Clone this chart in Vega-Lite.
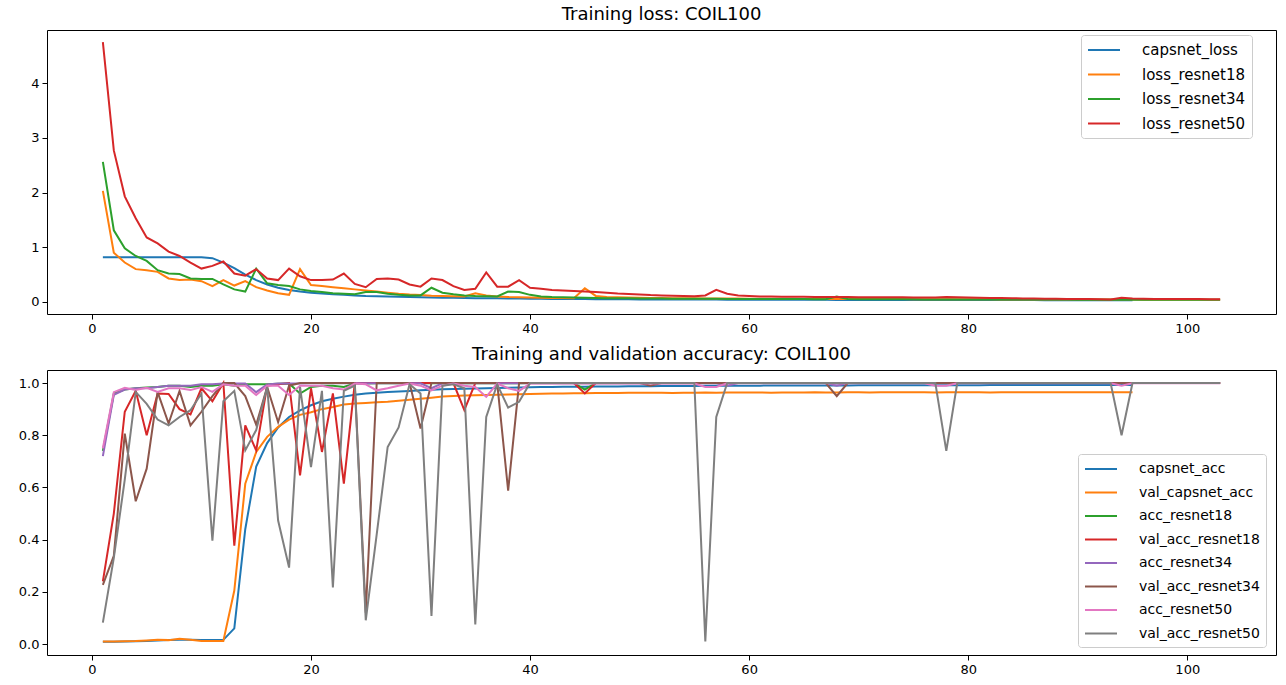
{
"$schema": "https://vega.github.io/schema/vega-lite/v6.json",
"background": "white",
"padding": {"left": 6, "top": 5, "right": 5, "bottom": 5},
"spacing": 8,
"datasets": {
"capsnet_loss": [{"epoch":1,"value":0.815},{"epoch":2,"value":0.815},{"epoch":3,"value":0.815},{"epoch":4,"value":0.815},{"epoch":5,"value":0.815},{"epoch":6,"value":0.815},{"epoch":7,"value":0.815},{"epoch":8,"value":0.815},{"epoch":9,"value":0.815},{"epoch":10,"value":0.815},{"epoch":11,"value":0.8},{"epoch":12,"value":0.72},{"epoch":13,"value":0.62},{"epoch":14,"value":0.5},{"epoch":15,"value":0.4},{"epoch":16,"value":0.32},{"epoch":17,"value":0.26},{"epoch":18,"value":0.22},{"epoch":19,"value":0.19},{"epoch":20,"value":0.17},{"epoch":21,"value":0.155},{"epoch":22,"value":0.14},{"epoch":23,"value":0.13},{"epoch":24,"value":0.12},{"epoch":25,"value":0.11},{"epoch":26,"value":0.105},{"epoch":27,"value":0.1},{"epoch":28,"value":0.095},{"epoch":29,"value":0.09},{"epoch":30,"value":0.085},{"epoch":31,"value":0.081},{"epoch":32,"value":0.078},{"epoch":33,"value":0.075},{"epoch":34,"value":0.072},{"epoch":35,"value":0.07},{"epoch":36,"value":0.068},{"epoch":37,"value":0.066},{"epoch":38,"value":0.064},{"epoch":39,"value":0.062},{"epoch":40,"value":0.06},{"epoch":41,"value":0.058},{"epoch":42,"value":0.056},{"epoch":43,"value":0.055},{"epoch":44,"value":0.053},{"epoch":45,"value":0.052},{"epoch":46,"value":0.051},{"epoch":47,"value":0.05},{"epoch":48,"value":0.049},{"epoch":49,"value":0.048},{"epoch":50,"value":0.047},{"epoch":51,"value":0.046},{"epoch":52,"value":0.045},{"epoch":53,"value":0.045},{"epoch":54,"value":0.044},{"epoch":55,"value":0.044},{"epoch":56,"value":0.043},{"epoch":57,"value":0.043},{"epoch":58,"value":0.042},{"epoch":59,"value":0.042},{"epoch":60,"value":0.041},{"epoch":61,"value":0.041},{"epoch":62,"value":0.04},{"epoch":63,"value":0.04},{"epoch":64,"value":0.04},{"epoch":65,"value":0.039},{"epoch":66,"value":0.039},{"epoch":67,"value":0.039},{"epoch":68,"value":0.038},{"epoch":69,"value":0.038},{"epoch":70,"value":0.038},{"epoch":71,"value":0.037},{"epoch":72,"value":0.037},{"epoch":73,"value":0.037},{"epoch":74,"value":0.036},{"epoch":75,"value":0.036},{"epoch":76,"value":0.036},{"epoch":77,"value":0.036},{"epoch":78,"value":0.035},{"epoch":79,"value":0.035},{"epoch":80,"value":0.035},{"epoch":81,"value":0.035},{"epoch":82,"value":0.034},{"epoch":83,"value":0.034},{"epoch":84,"value":0.034},{"epoch":85,"value":0.034},{"epoch":86,"value":0.034},{"epoch":87,"value":0.033},{"epoch":88,"value":0.033},{"epoch":89,"value":0.033},{"epoch":90,"value":0.033},{"epoch":91,"value":0.033},{"epoch":92,"value":0.032},{"epoch":93,"value":0.032},{"epoch":94,"value":0.032},{"epoch":95,"value":0.032}],
"loss_resnet18": [{"epoch":1,"value":2.03},{"epoch":2,"value":0.9},{"epoch":3,"value":0.72},{"epoch":4,"value":0.6},{"epoch":5,"value":0.58},{"epoch":6,"value":0.55},{"epoch":7,"value":0.43},{"epoch":8,"value":0.4},{"epoch":9,"value":0.41},{"epoch":10,"value":0.38},{"epoch":11,"value":0.29},{"epoch":12,"value":0.4},{"epoch":13,"value":0.3},{"epoch":14,"value":0.38},{"epoch":15,"value":0.27},{"epoch":16,"value":0.21},{"epoch":17,"value":0.16},{"epoch":18,"value":0.13},{"epoch":19,"value":0.6},{"epoch":20,"value":0.31},{"epoch":21,"value":0.29},{"epoch":22,"value":0.27},{"epoch":23,"value":0.25},{"epoch":24,"value":0.23},{"epoch":25,"value":0.21},{"epoch":26,"value":0.19},{"epoch":27,"value":0.17},{"epoch":28,"value":0.15},{"epoch":29,"value":0.135},{"epoch":30,"value":0.125},{"epoch":31,"value":0.115},{"epoch":32,"value":0.11},{"epoch":33,"value":0.105},{"epoch":34,"value":0.1},{"epoch":35,"value":0.16},{"epoch":36,"value":0.12},{"epoch":37,"value":0.1},{"epoch":38,"value":0.09},{"epoch":39,"value":0.085},{"epoch":40,"value":0.08},{"epoch":41,"value":0.077},{"epoch":42,"value":0.074},{"epoch":43,"value":0.071},{"epoch":44,"value":0.068},{"epoch":45,"value":0.25},{"epoch":46,"value":0.11},{"epoch":47,"value":0.09},{"epoch":48,"value":0.085},{"epoch":49,"value":0.08},{"epoch":50,"value":0.077},{"epoch":51,"value":0.074},{"epoch":52,"value":0.072},{"epoch":53,"value":0.07},{"epoch":54,"value":0.068},{"epoch":55,"value":0.066},{"epoch":56,"value":0.064},{"epoch":57,"value":0.063},{"epoch":58,"value":0.062},{"epoch":59,"value":0.061},{"epoch":60,"value":0.06},{"epoch":61,"value":0.059},{"epoch":62,"value":0.058},{"epoch":63,"value":0.058},{"epoch":64,"value":0.057},{"epoch":65,"value":0.056},{"epoch":66,"value":0.056},{"epoch":67,"value":0.055},{"epoch":68,"value":0.055},{"epoch":69,"value":0.054},{"epoch":70,"value":0.054},{"epoch":71,"value":0.053},{"epoch":72,"value":0.053},{"epoch":73,"value":0.052},{"epoch":74,"value":0.052},{"epoch":75,"value":0.051},{"epoch":76,"value":0.051},{"epoch":77,"value":0.05},{"epoch":78,"value":0.05},{"epoch":79,"value":0.049},{"epoch":80,"value":0.049},{"epoch":81,"value":0.048},{"epoch":82,"value":0.048},{"epoch":83,"value":0.047},{"epoch":84,"value":0.047},{"epoch":85,"value":0.046},{"epoch":86,"value":0.046},{"epoch":87,"value":0.046},{"epoch":88,"value":0.045},{"epoch":89,"value":0.045},{"epoch":90,"value":0.045},{"epoch":91,"value":0.044},{"epoch":92,"value":0.044},{"epoch":93,"value":0.044},{"epoch":94,"value":0.043},{"epoch":95,"value":0.043},{"epoch":96,"value":0.042},{"epoch":97,"value":0.042},{"epoch":98,"value":0.042},{"epoch":99,"value":0.041},{"epoch":100,"value":0.041},{"epoch":101,"value":0.041},{"epoch":102,"value":0.04},{"epoch":103,"value":0.04}],
"loss_resnet34": [{"epoch":1,"value":2.56},{"epoch":2,"value":1.31},{"epoch":3,"value":0.98},{"epoch":4,"value":0.84},{"epoch":5,"value":0.75},{"epoch":6,"value":0.58},{"epoch":7,"value":0.52},{"epoch":8,"value":0.51},{"epoch":9,"value":0.43},{"epoch":10,"value":0.42},{"epoch":11,"value":0.42},{"epoch":12,"value":0.32},{"epoch":13,"value":0.23},{"epoch":14,"value":0.19},{"epoch":15,"value":0.61},{"epoch":16,"value":0.34},{"epoch":17,"value":0.31},{"epoch":18,"value":0.29},{"epoch":19,"value":0.23},{"epoch":20,"value":0.2},{"epoch":21,"value":0.18},{"epoch":22,"value":0.16},{"epoch":23,"value":0.15},{"epoch":24,"value":0.14},{"epoch":25,"value":0.18},{"epoch":26,"value":0.18},{"epoch":27,"value":0.15},{"epoch":28,"value":0.13},{"epoch":29,"value":0.12},{"epoch":30,"value":0.12},{"epoch":31,"value":0.26},{"epoch":32,"value":0.17},{"epoch":33,"value":0.14},{"epoch":34,"value":0.12},{"epoch":35,"value":0.11},{"epoch":36,"value":0.105},{"epoch":37,"value":0.1},{"epoch":38,"value":0.19},{"epoch":39,"value":0.18},{"epoch":40,"value":0.13},{"epoch":41,"value":0.1},{"epoch":42,"value":0.09},{"epoch":43,"value":0.085},{"epoch":44,"value":0.08},{"epoch":45,"value":0.075},{"epoch":46,"value":0.072},{"epoch":47,"value":0.07},{"epoch":48,"value":0.068},{"epoch":49,"value":0.066},{"epoch":50,"value":0.064},{"epoch":51,"value":0.062},{"epoch":52,"value":0.061},{"epoch":53,"value":0.06},{"epoch":54,"value":0.059},{"epoch":55,"value":0.058},{"epoch":56,"value":0.057},{"epoch":57,"value":0.057},{"epoch":58,"value":0.056},{"epoch":59,"value":0.056},{"epoch":60,"value":0.055},{"epoch":61,"value":0.054},{"epoch":62,"value":0.054},{"epoch":63,"value":0.053},{"epoch":64,"value":0.053},{"epoch":65,"value":0.052},{"epoch":66,"value":0.051},{"epoch":67,"value":0.05},{"epoch":68,"value":0.1},{"epoch":69,"value":0.055},{"epoch":70,"value":0.05},{"epoch":71,"value":0.05},{"epoch":72,"value":0.049},{"epoch":73,"value":0.049},{"epoch":74,"value":0.048},{"epoch":75,"value":0.048},{"epoch":76,"value":0.047},{"epoch":77,"value":0.047},{"epoch":78,"value":0.047},{"epoch":79,"value":0.046},{"epoch":80,"value":0.046},{"epoch":81,"value":0.045},{"epoch":82,"value":0.045},{"epoch":83,"value":0.045},{"epoch":84,"value":0.044},{"epoch":85,"value":0.044},{"epoch":86,"value":0.044},{"epoch":87,"value":0.043},{"epoch":88,"value":0.043},{"epoch":89,"value":0.043},{"epoch":90,"value":0.042},{"epoch":91,"value":0.042},{"epoch":92,"value":0.042},{"epoch":93,"value":0.041},{"epoch":94,"value":0.041},{"epoch":95,"value":0.041},{"epoch":96,"value":0.04},{"epoch":97,"value":0.04},{"epoch":98,"value":0.04},{"epoch":99,"value":0.04},{"epoch":100,"value":0.039},{"epoch":101,"value":0.039},{"epoch":102,"value":0.039},{"epoch":103,"value":0.039}],
"loss_resnet50": [{"epoch":1,"value":4.75},{"epoch":2,"value":2.77},{"epoch":3,"value":1.93},{"epoch":4,"value":1.53},{"epoch":5,"value":1.18},{"epoch":6,"value":1.07},{"epoch":7,"value":0.92},{"epoch":8,"value":0.84},{"epoch":9,"value":0.72},{"epoch":10,"value":0.61},{"epoch":11,"value":0.66},{"epoch":12,"value":0.74},{"epoch":13,"value":0.52},{"epoch":14,"value":0.48},{"epoch":15,"value":0.6},{"epoch":16,"value":0.43},{"epoch":17,"value":0.4},{"epoch":18,"value":0.61},{"epoch":19,"value":0.47},{"epoch":20,"value":0.4},{"epoch":21,"value":0.4},{"epoch":22,"value":0.41},{"epoch":23,"value":0.52},{"epoch":24,"value":0.33},{"epoch":25,"value":0.27},{"epoch":26,"value":0.42},{"epoch":27,"value":0.43},{"epoch":28,"value":0.41},{"epoch":29,"value":0.32},{"epoch":30,"value":0.28},{"epoch":31,"value":0.43},{"epoch":32,"value":0.4},{"epoch":33,"value":0.29},{"epoch":34,"value":0.22},{"epoch":35,"value":0.24},{"epoch":36,"value":0.54},{"epoch":37,"value":0.28},{"epoch":38,"value":0.28},{"epoch":39,"value":0.4},{"epoch":40,"value":0.26},{"epoch":41,"value":0.24},{"epoch":42,"value":0.22},{"epoch":43,"value":0.21},{"epoch":44,"value":0.2},{"epoch":45,"value":0.19},{"epoch":46,"value":0.18},{"epoch":47,"value":0.17},{"epoch":48,"value":0.155},{"epoch":49,"value":0.145},{"epoch":50,"value":0.135},{"epoch":51,"value":0.125},{"epoch":52,"value":0.12},{"epoch":53,"value":0.115},{"epoch":54,"value":0.11},{"epoch":55,"value":0.105},{"epoch":56,"value":0.12},{"epoch":57,"value":0.22},{"epoch":58,"value":0.15},{"epoch":59,"value":0.12},{"epoch":60,"value":0.11},{"epoch":61,"value":0.1},{"epoch":62,"value":0.1},{"epoch":63,"value":0.095},{"epoch":64,"value":0.094},{"epoch":65,"value":0.093},{"epoch":66,"value":0.092},{"epoch":67,"value":0.091},{"epoch":68,"value":0.09},{"epoch":69,"value":0.089},{"epoch":70,"value":0.088},{"epoch":71,"value":0.087},{"epoch":72,"value":0.086},{"epoch":73,"value":0.085},{"epoch":74,"value":0.084},{"epoch":75,"value":0.083},{"epoch":76,"value":0.082},{"epoch":77,"value":0.08},{"epoch":78,"value":0.09},{"epoch":79,"value":0.085},{"epoch":80,"value":0.08},{"epoch":81,"value":0.077},{"epoch":82,"value":0.074},{"epoch":83,"value":0.071},{"epoch":84,"value":0.068},{"epoch":85,"value":0.065},{"epoch":86,"value":0.062},{"epoch":87,"value":0.06},{"epoch":88,"value":0.058},{"epoch":89,"value":0.056},{"epoch":90,"value":0.054},{"epoch":91,"value":0.052},{"epoch":92,"value":0.05},{"epoch":93,"value":0.046},{"epoch":94,"value":0.075},{"epoch":95,"value":0.062},{"epoch":96,"value":0.058},{"epoch":97,"value":0.056},{"epoch":98,"value":0.055},{"epoch":99,"value":0.054},{"epoch":100,"value":0.053},{"epoch":101,"value":0.052},{"epoch":102,"value":0.051},{"epoch":103,"value":0.05}],
"capsnet_acc": [{"epoch":1,"value":0.009},{"epoch":2,"value":0.009},{"epoch":3,"value":0.01},{"epoch":4,"value":0.011},{"epoch":5,"value":0.012},{"epoch":6,"value":0.014},{"epoch":7,"value":0.015},{"epoch":8,"value":0.016},{"epoch":9,"value":0.016},{"epoch":10,"value":0.015},{"epoch":11,"value":0.015},{"epoch":12,"value":0.016},{"epoch":13,"value":0.06},{"epoch":14,"value":0.44},{"epoch":15,"value":0.68},{"epoch":16,"value":0.77},{"epoch":17,"value":0.83},{"epoch":18,"value":0.87},{"epoch":19,"value":0.895},{"epoch":20,"value":0.915},{"epoch":21,"value":0.93},{"epoch":22,"value":0.94},{"epoch":23,"value":0.948},{"epoch":24,"value":0.955},{"epoch":25,"value":0.96},{"epoch":26,"value":0.963},{"epoch":27,"value":0.966},{"epoch":28,"value":0.968},{"epoch":29,"value":0.97},{"epoch":30,"value":0.972},{"epoch":31,"value":0.974},{"epoch":32,"value":0.976},{"epoch":33,"value":0.977},{"epoch":34,"value":0.978},{"epoch":35,"value":0.979},{"epoch":36,"value":0.98},{"epoch":37,"value":0.981},{"epoch":38,"value":0.982},{"epoch":39,"value":0.983},{"epoch":40,"value":0.984},{"epoch":41,"value":0.985},{"epoch":42,"value":0.985},{"epoch":43,"value":0.986},{"epoch":44,"value":0.986},{"epoch":45,"value":0.986},{"epoch":46,"value":0.987},{"epoch":47,"value":0.987},{"epoch":48,"value":0.987},{"epoch":49,"value":0.988},{"epoch":50,"value":0.988},{"epoch":51,"value":0.988},{"epoch":52,"value":0.989},{"epoch":53,"value":0.989},{"epoch":54,"value":0.989},{"epoch":55,"value":0.989},{"epoch":56,"value":0.99},{"epoch":57,"value":0.99},{"epoch":58,"value":0.99},{"epoch":59,"value":0.99},{"epoch":60,"value":0.99},{"epoch":61,"value":0.99},{"epoch":62,"value":0.991},{"epoch":63,"value":0.991},{"epoch":64,"value":0.991},{"epoch":65,"value":0.991},{"epoch":66,"value":0.991},{"epoch":67,"value":0.991},{"epoch":68,"value":0.991},{"epoch":69,"value":0.991},{"epoch":70,"value":0.992},{"epoch":71,"value":0.992},{"epoch":72,"value":0.992},{"epoch":73,"value":0.992},{"epoch":74,"value":0.992},{"epoch":75,"value":0.992},{"epoch":76,"value":0.992},{"epoch":77,"value":0.992},{"epoch":78,"value":0.992},{"epoch":79,"value":0.992},{"epoch":80,"value":0.992},{"epoch":81,"value":0.992},{"epoch":82,"value":0.993},{"epoch":83,"value":0.993},{"epoch":84,"value":0.993},{"epoch":85,"value":0.993},{"epoch":86,"value":0.993},{"epoch":87,"value":0.993},{"epoch":88,"value":0.993},{"epoch":89,"value":0.993},{"epoch":90,"value":0.993},{"epoch":91,"value":0.993},{"epoch":92,"value":0.993},{"epoch":93,"value":0.993},{"epoch":94,"value":0.993},{"epoch":95,"value":0.993}],
"val_capsnet_acc": [{"epoch":1,"value":0.01},{"epoch":2,"value":0.01},{"epoch":3,"value":0.011},{"epoch":4,"value":0.012},{"epoch":5,"value":0.014},{"epoch":6,"value":0.016},{"epoch":7,"value":0.015},{"epoch":8,"value":0.02},{"epoch":9,"value":0.016},{"epoch":10,"value":0.012},{"epoch":11,"value":0.012},{"epoch":12,"value":0.012},{"epoch":13,"value":0.205},{"epoch":14,"value":0.614},{"epoch":15,"value":0.736},{"epoch":16,"value":0.794},{"epoch":17,"value":0.832},{"epoch":18,"value":0.86},{"epoch":19,"value":0.878},{"epoch":20,"value":0.888},{"epoch":21,"value":0.9},{"epoch":22,"value":0.908},{"epoch":23,"value":0.918},{"epoch":24,"value":0.922},{"epoch":25,"value":0.924},{"epoch":26,"value":0.926},{"epoch":27,"value":0.928},{"epoch":28,"value":0.932},{"epoch":29,"value":0.936},{"epoch":30,"value":0.94},{"epoch":31,"value":0.944},{"epoch":32,"value":0.948},{"epoch":33,"value":0.95},{"epoch":34,"value":0.952},{"epoch":35,"value":0.953},{"epoch":36,"value":0.954},{"epoch":37,"value":0.955},{"epoch":38,"value":0.956},{"epoch":39,"value":0.957},{"epoch":40,"value":0.958},{"epoch":41,"value":0.959},{"epoch":42,"value":0.96},{"epoch":43,"value":0.96},{"epoch":44,"value":0.961},{"epoch":45,"value":0.961},{"epoch":46,"value":0.962},{"epoch":47,"value":0.962},{"epoch":48,"value":0.962},{"epoch":49,"value":0.963},{"epoch":50,"value":0.963},{"epoch":51,"value":0.963},{"epoch":52,"value":0.963},{"epoch":53,"value":0.962},{"epoch":54,"value":0.963},{"epoch":55,"value":0.963},{"epoch":56,"value":0.964},{"epoch":57,"value":0.963},{"epoch":58,"value":0.964},{"epoch":59,"value":0.964},{"epoch":60,"value":0.964},{"epoch":61,"value":0.964},{"epoch":62,"value":0.963},{"epoch":63,"value":0.964},{"epoch":64,"value":0.964},{"epoch":65,"value":0.964},{"epoch":66,"value":0.965},{"epoch":67,"value":0.964},{"epoch":68,"value":0.964},{"epoch":69,"value":0.965},{"epoch":70,"value":0.965},{"epoch":71,"value":0.964},{"epoch":72,"value":0.965},{"epoch":73,"value":0.965},{"epoch":74,"value":0.965},{"epoch":75,"value":0.965},{"epoch":76,"value":0.965},{"epoch":77,"value":0.964},{"epoch":78,"value":0.965},{"epoch":79,"value":0.965},{"epoch":80,"value":0.965},{"epoch":81,"value":0.965},{"epoch":82,"value":0.964},{"epoch":83,"value":0.965},{"epoch":84,"value":0.965},{"epoch":85,"value":0.965},{"epoch":86,"value":0.965},{"epoch":87,"value":0.965},{"epoch":88,"value":0.965},{"epoch":89,"value":0.965},{"epoch":90,"value":0.965},{"epoch":91,"value":0.965},{"epoch":92,"value":0.965},{"epoch":93,"value":0.965},{"epoch":94,"value":0.965},{"epoch":95,"value":0.965}],
"acc_resnet18": [{"epoch":1,"value":0.74},{"epoch":2,"value":0.96},{"epoch":3,"value":0.975},{"epoch":4,"value":0.98},{"epoch":5,"value":0.983},{"epoch":6,"value":0.985},{"epoch":7,"value":0.99},{"epoch":8,"value":0.99},{"epoch":9,"value":0.985},{"epoch":10,"value":0.99},{"epoch":11,"value":0.99},{"epoch":12,"value":0.995},{"epoch":13,"value":0.99},{"epoch":14,"value":0.995},{"epoch":15,"value":0.995},{"epoch":16,"value":0.995},{"epoch":17,"value":0.997},{"epoch":18,"value":0.998},{"epoch":19,"value":0.96},{"epoch":20,"value":0.985},{"epoch":21,"value":0.99},{"epoch":22,"value":0.99},{"epoch":23,"value":0.985},{"epoch":24,"value":0.998},{"epoch":25,"value":0.998},{"epoch":26,"value":0.999},{"epoch":27,"value":0.999},{"epoch":28,"value":0.999},{"epoch":29,"value":0.999},{"epoch":30,"value":0.999},{"epoch":31,"value":0.999},{"epoch":32,"value":0.999},{"epoch":33,"value":0.999},{"epoch":34,"value":0.999},{"epoch":35,"value":0.999},{"epoch":36,"value":0.999},{"epoch":37,"value":0.999},{"epoch":38,"value":0.999},{"epoch":39,"value":0.999},{"epoch":40,"value":1.0},{"epoch":41,"value":1.0},{"epoch":42,"value":1.0},{"epoch":43,"value":1.0},{"epoch":44,"value":1.0},{"epoch":45,"value":0.975},{"epoch":46,"value":1.0},{"epoch":47,"value":1.0},{"epoch":48,"value":1.0},{"epoch":49,"value":1.0},{"epoch":50,"value":1.0},{"epoch":51,"value":1.0},{"epoch":52,"value":1.0},{"epoch":53,"value":1.0},{"epoch":54,"value":1.0},{"epoch":55,"value":1.0},{"epoch":56,"value":1.0},{"epoch":57,"value":1.0},{"epoch":58,"value":1.0},{"epoch":59,"value":1.0},{"epoch":60,"value":1.0},{"epoch":61,"value":1.0},{"epoch":62,"value":1.0},{"epoch":63,"value":1.0},{"epoch":64,"value":1.0},{"epoch":65,"value":1.0},{"epoch":66,"value":1.0},{"epoch":67,"value":1.0},{"epoch":68,"value":1.0},{"epoch":69,"value":1.0},{"epoch":70,"value":1.0},{"epoch":71,"value":1.0},{"epoch":72,"value":1.0},{"epoch":73,"value":1.0},{"epoch":74,"value":1.0},{"epoch":75,"value":1.0},{"epoch":76,"value":1.0},{"epoch":77,"value":1.0},{"epoch":78,"value":1.0},{"epoch":79,"value":1.0},{"epoch":80,"value":1.0},{"epoch":81,"value":1.0},{"epoch":82,"value":1.0},{"epoch":83,"value":1.0},{"epoch":84,"value":1.0},{"epoch":85,"value":1.0},{"epoch":86,"value":1.0},{"epoch":87,"value":1.0},{"epoch":88,"value":1.0},{"epoch":89,"value":1.0},{"epoch":90,"value":1.0},{"epoch":91,"value":1.0},{"epoch":92,"value":1.0},{"epoch":93,"value":1.0},{"epoch":94,"value":1.0},{"epoch":95,"value":1.0},{"epoch":96,"value":1.0},{"epoch":97,"value":1.0},{"epoch":98,"value":1.0},{"epoch":99,"value":1.0},{"epoch":100,"value":1.0},{"epoch":101,"value":1.0},{"epoch":102,"value":1.0},{"epoch":103,"value":1.0}],
"val_acc_resnet18": [{"epoch":1,"value":0.24},{"epoch":2,"value":0.5},{"epoch":3,"value":0.89},{"epoch":4,"value":0.97},{"epoch":5,"value":0.8},{"epoch":6,"value":0.96},{"epoch":7,"value":0.958},{"epoch":8,"value":0.9},{"epoch":9,"value":0.88},{"epoch":10,"value":0.98},{"epoch":11,"value":0.93},{"epoch":12,"value":1.0},{"epoch":13,"value":0.377},{"epoch":14,"value":0.838},{"epoch":15,"value":0.742},{"epoch":16,"value":0.99},{"epoch":17,"value":0.995},{"epoch":18,"value":1.0},{"epoch":19,"value":0.646},{"epoch":20,"value":0.98},{"epoch":21,"value":0.736},{"epoch":22,"value":0.96},{"epoch":23,"value":0.615},{"epoch":24,"value":1.0},{"epoch":25,"value":1.0},{"epoch":26,"value":1.0},{"epoch":27,"value":1.0},{"epoch":28,"value":1.0},{"epoch":29,"value":1.0},{"epoch":30,"value":1.0},{"epoch":31,"value":1.0},{"epoch":32,"value":1.0},{"epoch":33,"value":1.0},{"epoch":34,"value":0.896},{"epoch":35,"value":1.0},{"epoch":36,"value":1.0},{"epoch":37,"value":1.0},{"epoch":38,"value":1.0},{"epoch":39,"value":1.0},{"epoch":40,"value":1.0},{"epoch":41,"value":1.0},{"epoch":42,"value":1.0},{"epoch":43,"value":1.0},{"epoch":44,"value":1.0},{"epoch":45,"value":0.96},{"epoch":46,"value":1.0},{"epoch":47,"value":1.0},{"epoch":48,"value":1.0},{"epoch":49,"value":1.0},{"epoch":50,"value":1.0},{"epoch":51,"value":1.0},{"epoch":52,"value":1.0},{"epoch":53,"value":1.0},{"epoch":54,"value":1.0},{"epoch":55,"value":1.0},{"epoch":56,"value":1.0},{"epoch":57,"value":1.0},{"epoch":58,"value":1.0},{"epoch":59,"value":1.0},{"epoch":60,"value":1.0},{"epoch":61,"value":1.0},{"epoch":62,"value":1.0},{"epoch":63,"value":1.0},{"epoch":64,"value":1.0},{"epoch":65,"value":1.0},{"epoch":66,"value":1.0},{"epoch":67,"value":1.0},{"epoch":68,"value":1.0},{"epoch":69,"value":1.0},{"epoch":70,"value":1.0},{"epoch":71,"value":1.0},{"epoch":72,"value":1.0},{"epoch":73,"value":1.0},{"epoch":74,"value":1.0},{"epoch":75,"value":1.0},{"epoch":76,"value":1.0},{"epoch":77,"value":1.0},{"epoch":78,"value":1.0},{"epoch":79,"value":1.0},{"epoch":80,"value":1.0},{"epoch":81,"value":1.0},{"epoch":82,"value":1.0},{"epoch":83,"value":1.0},{"epoch":84,"value":1.0},{"epoch":85,"value":1.0},{"epoch":86,"value":1.0},{"epoch":87,"value":1.0},{"epoch":88,"value":1.0},{"epoch":89,"value":1.0},{"epoch":90,"value":1.0},{"epoch":91,"value":1.0},{"epoch":92,"value":1.0},{"epoch":93,"value":1.0},{"epoch":94,"value":1.0},{"epoch":95,"value":1.0},{"epoch":96,"value":1.0},{"epoch":97,"value":1.0},{"epoch":98,"value":1.0},{"epoch":99,"value":1.0},{"epoch":100,"value":1.0},{"epoch":101,"value":1.0},{"epoch":102,"value":1.0},{"epoch":103,"value":1.0}],
"acc_resnet34": [{"epoch":1,"value":0.72},{"epoch":2,"value":0.955},{"epoch":3,"value":0.975},{"epoch":4,"value":0.98},{"epoch":5,"value":0.98},{"epoch":6,"value":0.985},{"epoch":7,"value":0.99},{"epoch":8,"value":0.99},{"epoch":9,"value":0.99},{"epoch":10,"value":0.995},{"epoch":11,"value":0.995},{"epoch":12,"value":0.998},{"epoch":13,"value":0.998},{"epoch":14,"value":0.998},{"epoch":15,"value":0.965},{"epoch":16,"value":0.995},{"epoch":17,"value":0.998},{"epoch":18,"value":0.998},{"epoch":19,"value":0.998},{"epoch":20,"value":0.999},{"epoch":21,"value":0.999},{"epoch":22,"value":0.999},{"epoch":23,"value":0.999},{"epoch":24,"value":0.999},{"epoch":25,"value":0.999},{"epoch":26,"value":0.999},{"epoch":27,"value":0.999},{"epoch":28,"value":0.999},{"epoch":29,"value":0.999},{"epoch":30,"value":0.999},{"epoch":31,"value":0.98},{"epoch":32,"value":0.999},{"epoch":33,"value":0.999},{"epoch":34,"value":0.999},{"epoch":35,"value":0.999},{"epoch":36,"value":0.999},{"epoch":37,"value":0.999},{"epoch":38,"value":0.999},{"epoch":39,"value":0.999},{"epoch":40,"value":0.999},{"epoch":41,"value":0.999},{"epoch":42,"value":0.999},{"epoch":43,"value":0.999},{"epoch":44,"value":0.999},{"epoch":45,"value":0.999},{"epoch":46,"value":0.999},{"epoch":47,"value":0.999},{"epoch":48,"value":0.999},{"epoch":49,"value":0.999},{"epoch":50,"value":0.999},{"epoch":51,"value":0.999},{"epoch":52,"value":0.999},{"epoch":53,"value":0.999},{"epoch":54,"value":0.999},{"epoch":55,"value":0.999},{"epoch":56,"value":0.999},{"epoch":57,"value":0.999},{"epoch":58,"value":0.99},{"epoch":59,"value":1.0},{"epoch":60,"value":1.0},{"epoch":61,"value":1.0},{"epoch":62,"value":1.0},{"epoch":63,"value":1.0},{"epoch":64,"value":1.0},{"epoch":65,"value":1.0},{"epoch":66,"value":1.0},{"epoch":67,"value":1.0},{"epoch":68,"value":0.99},{"epoch":69,"value":1.0},{"epoch":70,"value":1.0},{"epoch":71,"value":1.0},{"epoch":72,"value":1.0},{"epoch":73,"value":1.0},{"epoch":74,"value":1.0},{"epoch":75,"value":1.0},{"epoch":76,"value":1.0},{"epoch":77,"value":1.0},{"epoch":78,"value":1.0},{"epoch":79,"value":1.0},{"epoch":80,"value":1.0},{"epoch":81,"value":1.0},{"epoch":82,"value":1.0},{"epoch":83,"value":1.0},{"epoch":84,"value":1.0},{"epoch":85,"value":1.0},{"epoch":86,"value":1.0},{"epoch":87,"value":1.0},{"epoch":88,"value":1.0},{"epoch":89,"value":1.0},{"epoch":90,"value":1.0},{"epoch":91,"value":1.0},{"epoch":92,"value":1.0},{"epoch":93,"value":1.0},{"epoch":94,"value":1.0},{"epoch":95,"value":1.0},{"epoch":96,"value":1.0},{"epoch":97,"value":1.0},{"epoch":98,"value":1.0},{"epoch":99,"value":1.0},{"epoch":100,"value":1.0},{"epoch":101,"value":1.0},{"epoch":102,"value":1.0},{"epoch":103,"value":1.0}],
"val_acc_resnet34": [{"epoch":1,"value":0.227},{"epoch":2,"value":0.338},{"epoch":3,"value":0.806},{"epoch":4,"value":0.547},{"epoch":5,"value":0.672},{"epoch":6,"value":0.965},{"epoch":7,"value":0.845},{"epoch":8,"value":0.97},{"epoch":9,"value":0.838},{"epoch":10,"value":0.89},{"epoch":11,"value":0.95},{"epoch":12,"value":1.0},{"epoch":13,"value":1.0},{"epoch":14,"value":0.95},{"epoch":15,"value":0.84},{"epoch":16,"value":0.985},{"epoch":17,"value":0.85},{"epoch":18,"value":0.99},{"epoch":19,"value":1.0},{"epoch":20,"value":1.0},{"epoch":21,"value":1.0},{"epoch":22,"value":1.0},{"epoch":23,"value":1.0},{"epoch":24,"value":1.0},{"epoch":25,"value":0.12},{"epoch":26,"value":1.0},{"epoch":27,"value":1.0},{"epoch":28,"value":1.0},{"epoch":29,"value":1.0},{"epoch":30,"value":0.826},{"epoch":31,"value":1.0},{"epoch":32,"value":1.0},{"epoch":33,"value":1.0},{"epoch":34,"value":1.0},{"epoch":35,"value":1.0},{"epoch":36,"value":1.0},{"epoch":37,"value":1.0},{"epoch":38,"value":0.588},{"epoch":39,"value":1.0},{"epoch":40,"value":1.0},{"epoch":41,"value":1.0},{"epoch":42,"value":1.0},{"epoch":43,"value":1.0},{"epoch":44,"value":1.0},{"epoch":45,"value":1.0},{"epoch":46,"value":1.0},{"epoch":47,"value":1.0},{"epoch":48,"value":1.0},{"epoch":49,"value":1.0},{"epoch":50,"value":1.0},{"epoch":51,"value":0.99},{"epoch":52,"value":1.0},{"epoch":53,"value":1.0},{"epoch":54,"value":1.0},{"epoch":55,"value":1.0},{"epoch":56,"value":1.0},{"epoch":57,"value":1.0},{"epoch":58,"value":1.0},{"epoch":59,"value":1.0},{"epoch":60,"value":1.0},{"epoch":61,"value":1.0},{"epoch":62,"value":1.0},{"epoch":63,"value":1.0},{"epoch":64,"value":1.0},{"epoch":65,"value":1.0},{"epoch":66,"value":1.0},{"epoch":67,"value":1.0},{"epoch":68,"value":0.95},{"epoch":69,"value":1.0},{"epoch":70,"value":1.0},{"epoch":71,"value":1.0},{"epoch":72,"value":1.0},{"epoch":73,"value":1.0},{"epoch":74,"value":1.0},{"epoch":75,"value":1.0},{"epoch":76,"value":1.0},{"epoch":77,"value":1.0},{"epoch":78,"value":1.0},{"epoch":79,"value":1.0},{"epoch":80,"value":1.0},{"epoch":81,"value":1.0},{"epoch":82,"value":1.0},{"epoch":83,"value":1.0},{"epoch":84,"value":1.0},{"epoch":85,"value":1.0},{"epoch":86,"value":1.0},{"epoch":87,"value":1.0},{"epoch":88,"value":1.0},{"epoch":89,"value":1.0},{"epoch":90,"value":1.0},{"epoch":91,"value":1.0},{"epoch":92,"value":1.0},{"epoch":93,"value":1.0},{"epoch":94,"value":1.0},{"epoch":95,"value":1.0},{"epoch":96,"value":1.0},{"epoch":97,"value":1.0},{"epoch":98,"value":1.0},{"epoch":99,"value":1.0},{"epoch":100,"value":1.0},{"epoch":101,"value":1.0},{"epoch":102,"value":1.0},{"epoch":103,"value":1.0}],
"acc_resnet50": [{"epoch":1,"value":0.75},{"epoch":2,"value":0.965},{"epoch":3,"value":0.982},{"epoch":4,"value":0.973},{"epoch":5,"value":0.982},{"epoch":6,"value":0.966},{"epoch":7,"value":0.98},{"epoch":8,"value":0.98},{"epoch":9,"value":0.973},{"epoch":10,"value":0.985},{"epoch":11,"value":0.966},{"epoch":12,"value":0.995},{"epoch":13,"value":0.99},{"epoch":14,"value":0.99},{"epoch":15,"value":0.954},{"epoch":16,"value":0.99},{"epoch":17,"value":0.99},{"epoch":18,"value":0.954},{"epoch":19,"value":0.99},{"epoch":20,"value":0.99},{"epoch":21,"value":0.99},{"epoch":22,"value":0.98},{"epoch":23,"value":0.975},{"epoch":24,"value":0.998},{"epoch":25,"value":0.995},{"epoch":26,"value":0.972},{"epoch":27,"value":0.98},{"epoch":28,"value":0.99},{"epoch":29,"value":0.998},{"epoch":30,"value":0.99},{"epoch":31,"value":0.972},{"epoch":32,"value":0.99},{"epoch":33,"value":0.998},{"epoch":34,"value":0.99},{"epoch":35,"value":0.985},{"epoch":36,"value":0.947},{"epoch":37,"value":0.998},{"epoch":38,"value":0.98},{"epoch":39,"value":0.97},{"epoch":40,"value":0.998},{"epoch":41,"value":0.998},{"epoch":42,"value":0.998},{"epoch":43,"value":0.998},{"epoch":44,"value":0.998},{"epoch":45,"value":0.998},{"epoch":46,"value":0.998},{"epoch":47,"value":0.998},{"epoch":48,"value":0.998},{"epoch":49,"value":0.998},{"epoch":50,"value":0.998},{"epoch":51,"value":0.998},{"epoch":52,"value":0.998},{"epoch":53,"value":0.998},{"epoch":54,"value":0.998},{"epoch":55,"value":0.998},{"epoch":56,"value":0.985},{"epoch":57,"value":0.985},{"epoch":58,"value":0.999},{"epoch":59,"value":0.999},{"epoch":60,"value":0.999},{"epoch":61,"value":0.999},{"epoch":62,"value":0.999},{"epoch":63,"value":0.999},{"epoch":64,"value":0.999},{"epoch":65,"value":0.999},{"epoch":66,"value":0.999},{"epoch":67,"value":0.999},{"epoch":68,"value":0.999},{"epoch":69,"value":0.999},{"epoch":70,"value":0.999},{"epoch":71,"value":0.999},{"epoch":72,"value":0.999},{"epoch":73,"value":0.999},{"epoch":74,"value":0.999},{"epoch":75,"value":0.999},{"epoch":76,"value":0.999},{"epoch":77,"value":0.99},{"epoch":78,"value":0.99},{"epoch":79,"value":0.999},{"epoch":80,"value":0.999},{"epoch":81,"value":0.999},{"epoch":82,"value":0.999},{"epoch":83,"value":0.999},{"epoch":84,"value":0.999},{"epoch":85,"value":0.999},{"epoch":86,"value":0.999},{"epoch":87,"value":0.999},{"epoch":88,"value":0.999},{"epoch":89,"value":0.999},{"epoch":90,"value":0.999},{"epoch":91,"value":0.999},{"epoch":92,"value":0.999},{"epoch":93,"value":0.999},{"epoch":94,"value":0.99},{"epoch":95,"value":0.999},{"epoch":96,"value":0.999},{"epoch":97,"value":0.999},{"epoch":98,"value":0.999},{"epoch":99,"value":0.999},{"epoch":100,"value":0.999},{"epoch":101,"value":0.999},{"epoch":102,"value":0.999},{"epoch":103,"value":0.999}],
"val_acc_resnet50": [{"epoch":1,"value":0.082},{"epoch":2,"value":0.33},{"epoch":3,"value":0.63},{"epoch":4,"value":0.966},{"epoch":5,"value":0.92},{"epoch":6,"value":0.86},{"epoch":7,"value":0.838},{"epoch":8,"value":0.87},{"epoch":9,"value":0.896},{"epoch":10,"value":0.96},{"epoch":11,"value":0.396},{"epoch":12,"value":0.93},{"epoch":13,"value":0.97},{"epoch":14,"value":0.742},{"epoch":15,"value":0.82},{"epoch":16,"value":0.985},{"epoch":17,"value":0.473},{"epoch":18,"value":0.293},{"epoch":19,"value":0.985},{"epoch":20,"value":0.678},{"epoch":21,"value":0.97},{"epoch":22,"value":0.217},{"epoch":23,"value":0.97},{"epoch":24,"value":0.99},{"epoch":25,"value":0.091},{"epoch":26,"value":0.42},{"epoch":27,"value":0.755},{"epoch":28,"value":0.83},{"epoch":29,"value":0.995},{"epoch":30,"value":0.96},{"epoch":31,"value":0.108},{"epoch":32,"value":0.99},{"epoch":33,"value":0.995},{"epoch":34,"value":0.98},{"epoch":35,"value":0.075},{"epoch":36,"value":0.87},{"epoch":37,"value":0.995},{"epoch":38,"value":0.906},{"epoch":39,"value":0.928},{"epoch":40,"value":1.0},{"epoch":41,"value":1.0},{"epoch":42,"value":1.0},{"epoch":43,"value":1.0},{"epoch":44,"value":1.0},{"epoch":45,"value":1.0},{"epoch":46,"value":1.0},{"epoch":47,"value":1.0},{"epoch":48,"value":1.0},{"epoch":49,"value":1.0},{"epoch":50,"value":1.0},{"epoch":51,"value":1.0},{"epoch":52,"value":1.0},{"epoch":53,"value":1.0},{"epoch":54,"value":1.0},{"epoch":55,"value":1.0},{"epoch":56,"value":0.01},{"epoch":57,"value":0.87},{"epoch":58,"value":1.0},{"epoch":59,"value":1.0},{"epoch":60,"value":1.0},{"epoch":61,"value":1.0},{"epoch":62,"value":1.0},{"epoch":63,"value":1.0},{"epoch":64,"value":1.0},{"epoch":65,"value":1.0},{"epoch":66,"value":1.0},{"epoch":67,"value":1.0},{"epoch":68,"value":1.0},{"epoch":69,"value":1.0},{"epoch":70,"value":1.0},{"epoch":71,"value":1.0},{"epoch":72,"value":1.0},{"epoch":73,"value":1.0},{"epoch":74,"value":1.0},{"epoch":75,"value":1.0},{"epoch":76,"value":1.0},{"epoch":77,"value":1.0},{"epoch":78,"value":0.74},{"epoch":79,"value":1.0},{"epoch":80,"value":1.0},{"epoch":81,"value":1.0},{"epoch":82,"value":1.0},{"epoch":83,"value":1.0},{"epoch":84,"value":1.0},{"epoch":85,"value":1.0},{"epoch":86,"value":1.0},{"epoch":87,"value":1.0},{"epoch":88,"value":1.0},{"epoch":89,"value":1.0},{"epoch":90,"value":1.0},{"epoch":91,"value":1.0},{"epoch":92,"value":1.0},{"epoch":93,"value":1.0},{"epoch":94,"value":0.8},{"epoch":95,"value":1.0},{"epoch":96,"value":1.0},{"epoch":97,"value":1.0},{"epoch":98,"value":1.0},{"epoch":99,"value":1.0},{"epoch":100,"value":1.0},{"epoch":101,"value":1.0},{"epoch":102,"value":1.0},{"epoch":103,"value":1.0}]
},
"vconcat": [
{
"title": {"text": "Training loss: COIL100"},
"width": 1229, "height": 284,
"encoding": {
"x": {"field": "epoch", "type": "quantitative", "scale": {"domain": [-4.1, 108.1], "nice": false, "zero": false}, "axis": {"values": [0,20,40,60,80,100], "format": "d", "minExtent": 22, "maxExtent": 22}},
"y": {"field": "value", "type": "quantitative", "scale": {"domain": [-0.22, 4.97], "nice": false, "zero": false}, "axis": {"values": [0,1,2,3,4], "format": "d", "minExtent": 40, "maxExtent": 40}}
},
"layer": [
{"data": {"name": "capsnet_loss"}, "mark": {"type": "line", "strokeWidth": 2}, "encoding": {"color": {"datum": "capsnet_loss", "type": "nominal", "scale": {"domain": ["capsnet_loss","loss_resnet18","loss_resnet34","loss_resnet50"], "range": ["#1f77b4","#ff7f0e","#2ca02c","#d62728"]}, "legend": {"title": null, "orient": "none", "legendX": 1034, "legendY": 5, "symbolType": "M-1,0H3", "labelFontSize": 15}}}},
{"data": {"name": "loss_resnet18"}, "mark": {"type": "line", "strokeWidth": 2}, "encoding": {"color": {"datum": "loss_resnet18", "type": "nominal", "scale": {"domain": ["capsnet_loss","loss_resnet18","loss_resnet34","loss_resnet50"], "range": ["#1f77b4","#ff7f0e","#2ca02c","#d62728"]}, "legend": {"title": null, "orient": "none", "legendX": 1034, "legendY": 5, "symbolType": "M-1,0H3", "labelFontSize": 15}}}},
{"data": {"name": "loss_resnet34"}, "mark": {"type": "line", "strokeWidth": 2}, "encoding": {"color": {"datum": "loss_resnet34", "type": "nominal", "scale": {"domain": ["capsnet_loss","loss_resnet18","loss_resnet34","loss_resnet50"], "range": ["#1f77b4","#ff7f0e","#2ca02c","#d62728"]}, "legend": {"title": null, "orient": "none", "legendX": 1034, "legendY": 5, "symbolType": "M-1,0H3", "labelFontSize": 15}}}},
{"data": {"name": "loss_resnet50"}, "mark": {"type": "line", "strokeWidth": 2}, "encoding": {"color": {"datum": "loss_resnet50", "type": "nominal", "scale": {"domain": ["capsnet_loss","loss_resnet18","loss_resnet34","loss_resnet50"], "range": ["#1f77b4","#ff7f0e","#2ca02c","#d62728"]}, "legend": {"title": null, "orient": "none", "legendX": 1034, "legendY": 5, "symbolType": "M-1,0H3", "labelFontSize": 15}}}}
]
},
{
"title": {"text": "Training and validation accuracy: COIL100"},
"width": 1229, "height": 285,
"encoding": {
"x": {"field": "epoch", "type": "quantitative", "scale": {"domain": [-4.1, 108.1], "nice": false, "zero": false}, "axis": {"values": [0,20,40,60,80,100], "format": "d", "minExtent": 22, "maxExtent": 22}},
"y": {"field": "value", "type": "quantitative", "scale": {"domain": [-0.042, 1.05], "nice": false, "zero": false}, "axis": {"values": [0,0.2,0.4,0.6,0.8,1.0], "format": ".1f", "minExtent": 40, "maxExtent": 40}}
},
"layer": [
{"data": {"name": "capsnet_acc"}, "mark": {"type": "line", "strokeWidth": 2}, "encoding": {"color": {"datum": "capsnet_acc", "type": "nominal", "scale": {"domain": ["capsnet_acc","val_capsnet_acc","acc_resnet18","val_acc_resnet18","acc_resnet34","val_acc_resnet34","acc_resnet50","val_acc_resnet50"], "range": ["#1f77b4","#ff7f0e","#2ca02c","#d62728","#9467bd","#8c564b","#e377c2","#7f7f7f"]}, "legend": {"title": null, "orient": "none", "legendX": 1031, "legendY": 84, "symbolType": "M-1,0H3"}}}},
{"data": {"name": "val_capsnet_acc"}, "mark": {"type": "line", "strokeWidth": 2}, "encoding": {"color": {"datum": "val_capsnet_acc", "type": "nominal", "scale": {"domain": ["capsnet_acc","val_capsnet_acc","acc_resnet18","val_acc_resnet18","acc_resnet34","val_acc_resnet34","acc_resnet50","val_acc_resnet50"], "range": ["#1f77b4","#ff7f0e","#2ca02c","#d62728","#9467bd","#8c564b","#e377c2","#7f7f7f"]}, "legend": {"title": null, "orient": "none", "legendX": 1031, "legendY": 84, "symbolType": "M-1,0H3"}}}},
{"data": {"name": "acc_resnet18"}, "mark": {"type": "line", "strokeWidth": 2}, "encoding": {"color": {"datum": "acc_resnet18", "type": "nominal", "scale": {"domain": ["capsnet_acc","val_capsnet_acc","acc_resnet18","val_acc_resnet18","acc_resnet34","val_acc_resnet34","acc_resnet50","val_acc_resnet50"], "range": ["#1f77b4","#ff7f0e","#2ca02c","#d62728","#9467bd","#8c564b","#e377c2","#7f7f7f"]}, "legend": {"title": null, "orient": "none", "legendX": 1031, "legendY": 84, "symbolType": "M-1,0H3"}}}},
{"data": {"name": "val_acc_resnet18"}, "mark": {"type": "line", "strokeWidth": 2}, "encoding": {"color": {"datum": "val_acc_resnet18", "type": "nominal", "scale": {"domain": ["capsnet_acc","val_capsnet_acc","acc_resnet18","val_acc_resnet18","acc_resnet34","val_acc_resnet34","acc_resnet50","val_acc_resnet50"], "range": ["#1f77b4","#ff7f0e","#2ca02c","#d62728","#9467bd","#8c564b","#e377c2","#7f7f7f"]}, "legend": {"title": null, "orient": "none", "legendX": 1031, "legendY": 84, "symbolType": "M-1,0H3"}}}},
{"data": {"name": "acc_resnet34"}, "mark": {"type": "line", "strokeWidth": 2}, "encoding": {"color": {"datum": "acc_resnet34", "type": "nominal", "scale": {"domain": ["capsnet_acc","val_capsnet_acc","acc_resnet18","val_acc_resnet18","acc_resnet34","val_acc_resnet34","acc_resnet50","val_acc_resnet50"], "range": ["#1f77b4","#ff7f0e","#2ca02c","#d62728","#9467bd","#8c564b","#e377c2","#7f7f7f"]}, "legend": {"title": null, "orient": "none", "legendX": 1031, "legendY": 84, "symbolType": "M-1,0H3"}}}},
{"data": {"name": "val_acc_resnet34"}, "mark": {"type": "line", "strokeWidth": 2}, "encoding": {"color": {"datum": "val_acc_resnet34", "type": "nominal", "scale": {"domain": ["capsnet_acc","val_capsnet_acc","acc_resnet18","val_acc_resnet18","acc_resnet34","val_acc_resnet34","acc_resnet50","val_acc_resnet50"], "range": ["#1f77b4","#ff7f0e","#2ca02c","#d62728","#9467bd","#8c564b","#e377c2","#7f7f7f"]}, "legend": {"title": null, "orient": "none", "legendX": 1031, "legendY": 84, "symbolType": "M-1,0H3"}}}},
{"data": {"name": "acc_resnet50"}, "mark": {"type": "line", "strokeWidth": 2}, "encoding": {"color": {"datum": "acc_resnet50", "type": "nominal", "scale": {"domain": ["capsnet_acc","val_capsnet_acc","acc_resnet18","val_acc_resnet18","acc_resnet34","val_acc_resnet34","acc_resnet50","val_acc_resnet50"], "range": ["#1f77b4","#ff7f0e","#2ca02c","#d62728","#9467bd","#8c564b","#e377c2","#7f7f7f"]}, "legend": {"title": null, "orient": "none", "legendX": 1031, "legendY": 84, "symbolType": "M-1,0H3"}}}},
{"data": {"name": "val_acc_resnet50"}, "mark": {"type": "line", "strokeWidth": 2}, "encoding": {"color": {"datum": "val_acc_resnet50", "type": "nominal", "scale": {"domain": ["capsnet_acc","val_capsnet_acc","acc_resnet18","val_acc_resnet18","acc_resnet34","val_acc_resnet34","acc_resnet50","val_acc_resnet50"], "range": ["#1f77b4","#ff7f0e","#2ca02c","#d62728","#9467bd","#8c564b","#e377c2","#7f7f7f"]}, "legend": {"title": null, "orient": "none", "legendX": 1031, "legendY": 84, "symbolType": "M-1,0H3"}}}}
]
}
],
"resolve": {"scale": {"color": "independent"}, "legend": {"color": "independent"}},
"config": {
"font": "DejaVu Sans",
"view": {"stroke": "#000", "strokeWidth": 1},
"axis": {"domain": false, "grid": false, "ticks": true, "tickColor": "#000", "tickSize": 5, "tickWidth": 1, "labelFont": "DejaVu Sans", "labelFontSize": 13, "labelColor": "#000", "labelPadding": 3, "title": null},
"title": {"font": "DejaVu Sans", "fontSize": 18, "fontWeight": "normal", "color": "#000", "offset": 6, "anchor": "middle"},
"legend": {"strokeColor": "#cccccc", "fillColor": "#ffffff", "padding": 6, "cornerRadius": 3, "symbolStrokeWidth": 2, "symbolSize": 256, "labelFont": "DejaVu Sans", "labelFontSize": 14, "labelColor": "#000", "labelOffset": 37, "rowPadding": 7.5}
}
}
